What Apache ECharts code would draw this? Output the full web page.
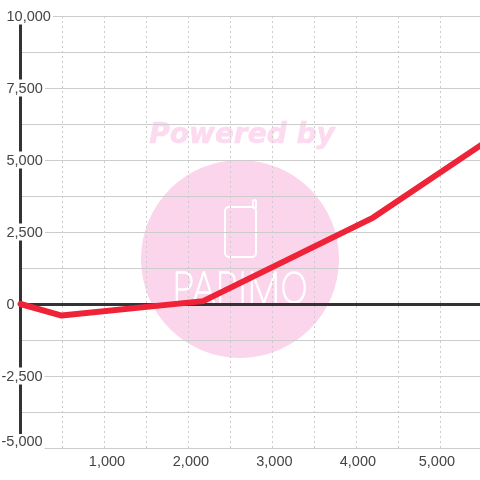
<!DOCTYPE html>
<html>
<head>
<meta charset="utf-8">
<style>
    html, body { margin: 0; padding: 0; background: #fff; }
    #chart { width: 480px; height: 480px; }
</style>
<script src="https://cdn.jsdelivr.net/npm/echarts@6/dist/echarts.min.js"></script>
</head>
<body>
<div id="chart"></div>
<script>
    const xValues = [0, 490, 2175, 4200, 5500]
    const yValues = [0, -400, 100, 3000, 5550]

    const xMin = 0, xMax = 5472, xStep = 500
    const yMin = -5000, yMax = 10000, yStep = 1250

    const pink = '#fbd5ec'
    const textColor = '#444'
    const gridColor = '#ccc'
    const axisColor = '#333'
    const fontSize = 14.5

    const fmt = v => Math.abs(v).toLocaleString('en-US')

    // y labels carry a white box that cuts the axis line
    const yRich = (padding, bg = '#fff') => ({
        color: textColor, fontSize, lineHeight: 15, backgroundColor: bg, padding
    })
    // x labels sit slightly off their grid lines
    const xRich = padding => ({ color: textColor, fontSize, padding })

    let chart = echarts.init(document.getElementById('chart'))
    chart.setOption({
        animation: false,
        backgroundColor: '#fff',
        textStyle: { fontFamily: '"Liberation Sans", Arial, sans-serif' },
        grid: { left: 20.5, right: 0, top: 16, bottom: 32, containLabel: false, outerBoundsMode: 'none' },
        xAxis: [
            {
                type: 'value',
                position: 'bottom',
                min: xMin,
                max: xMax,
                interval: xStep,
                axisLine: { show: false, onZero: false },
                axisTick: { show: false },
                axisLabel: {
                    margin: 6,
                    showMinLabel: false,
                    formatter: v => v % 1000 === 0 ? '{x' + v / 1000 + '|' + fmt(v) + '}' : '',
                    rich: {
                        x1: xRich([0, 0, 0, 5]),
                        x2: xRich([0, 0, 0, 5]),
                        x3: xRich([0, 0, 0, 4]),
                        x4: xRich([0, 0, 0, 3]),
                        x5: xRich([0, 7, 0, 0])
                    }
                },
                splitLine: { show: true, lineStyle: { color: gridColor, type: [2, 3], width: 1 } }
            },
            {
                // zero line only
                type: 'value',
                position: 'top',
                min: xMin,
                max: xMax,
                interval: xStep,
                axisLine: { show: true, onZero: true, onZeroAxisIndex: 0, lineStyle: { color: axisColor, width: 3 } },
                axisTick: { show: false },
                axisLabel: { show: false },
                splitLine: { show: false }
            }
        ],
        yAxis: {
            type: 'value',
            min: yMin,
            max: yMax,
            interval: yStep,
            axisLine: { show: true, onZero: false, lineStyle: { color: axisColor, width: 3 } },
            axisTick: { show: false },
            splitLine: { show: true, lineStyle: { color: gridColor, width: 1 } },
            axisLabel: {
                align: 'left',
                margin: 19,
                formatter: v => {
                    if (v % 2500 !== 0) return ''
                    if (v === yMin) return '{low|-' + fmt(v) + '}'
                    if (v < 0) return '{neg|-' + fmt(v) + '}'
                    if (v === yMax) return '{top|' + fmt(v) + '}'
                    if (v === 0) return '{zero|0}'
                    return '{pos|' + fmt(v) + '}'
                },
                rich: {
                    low: yRich([0, 2, 13, 0]),
                    neg: yRich([2, 2, 0, 0]),
                    pos: yRich([2, 2, 0, 5]),
                    top: yRich([2, 2, 0, 5]),
                    zero: yRich([2, 2, 0, 5], 'transparent')
                }
            }
        },
        graphic: [
            { type: 'circle', z: -10, shape: { cx: 240, cy: 259, r: 99 }, style: { fill: pink } },
            {
                type: 'text', z: -10, x: 242, y: 136,
                style: {
                    text: 'Powered by',
                    fill: '#fcdaef',
                    stroke: '#fcdaef',
                    lineWidth: 0.6,
                    font: 'italic bold 28px "DejaVu Sans"',
                    align: 'center',
                    verticalAlign: 'middle'
                }
            },
            {
                type: 'rect', z: -9,
                shape: { x: 225, y: 207, width: 31, height: 50, r: 4 },
                style: { fill: 'none', stroke: '#fff', lineWidth: 2 }
            },
            {
                type: 'rect', z: -9,
                shape: { x: 253, y: 200, width: 3, height: 8, r: 1.5 },
                style: { fill: 'none', stroke: '#fff', lineWidth: 2 }
            },
            {
                type: 'text', z: -9, x: 240, y: 290, scaleX: 0.88,
                style: {
                    text: 'PAPIMO',
                    fill: '#fff',
                    stroke: '#fff',
                    lineWidth: 1.5,
                    font: '100 42px Inter, "DejaVu Sans"',
                    align: 'center',
                    verticalAlign: 'middle'
                }
            }
        ],
        series: [
            {
                type: 'line',
                xAxisIndex: 0,
                clip: false,
                data: xValues.map((x, i) => [x, yValues[i]]),
                showSymbol: false,
                lineStyle: { color: '#ee2337', width: 6, cap: 'round', join: 'round' }
            }
        ]
    })
</script>
</body>
</html>
